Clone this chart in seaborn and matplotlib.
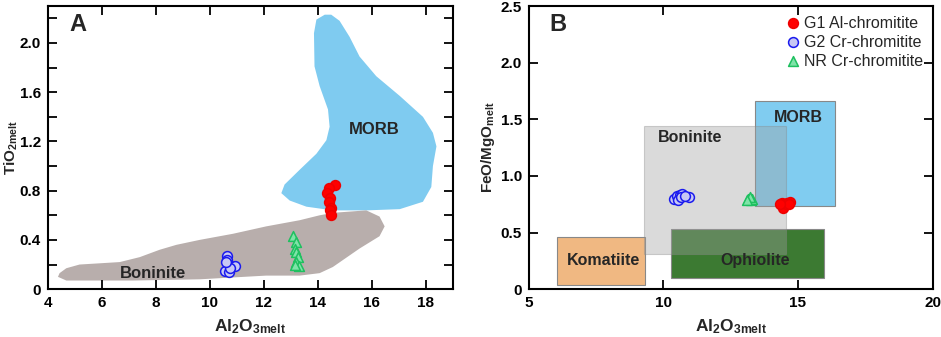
import numpy as np
import pandas as pd
import seaborn as sns
import matplotlib.pyplot as plt
from matplotlib.patches import Polygon, Rectangle
from matplotlib.ticker import MultipleLocator

# ---- data ----
# Panel A: Al2O3 melt vs TiO2 melt
g1_al_a = [14.65, 14.4, 14.35, 14.45, 14.4, 14.5, 14.45, 14.5]
g1_ti_a = [0.85, 0.82, 0.78, 0.74, 0.71, 0.66, 0.64, 0.60]
g2_al_a = [10.62, 10.65, 10.7, 10.95, 10.55, 10.7, 10.75, 10.6]
g2_ti_a = [0.27, 0.24, 0.20, 0.19, 0.15, 0.14, 0.17, 0.22]
nr_al_a = [13.1, 13.2, 13.15, 13.2, 13.25, 13.2, 13.3, 13.15]
nr_ti_a = [0.43, 0.38, 0.33, 0.30, 0.26, 0.22, 0.19, 0.20]

# field outlines in panel A
morb_al = [14.26, 13.95, 13.86, 13.88, 14.07, 14.38, 14.44, 14.32, 13.95, 13.33, 12.77, 12.65,
           12.96, 13.58, 14.56, 15.80, 17.04, 17.90, 18.21, 18.27, 18.40, 18.27, 17.90, 17.04,
           16.17, 15.55, 15.18, 14.81, 14.50]
morb_ti = [2.23, 2.19, 2.08, 1.81, 1.65, 1.46, 1.32, 1.21, 1.10, 0.97, 0.85, 0.78,
           0.72, 0.67, 0.64, 0.64, 0.65, 0.71, 0.83, 1.00, 1.16, 1.27, 1.40, 1.57,
           1.73, 1.89, 2.05, 2.18, 2.23]
bon_al = [4.43, 4.68, 5.17, 5.92, 6.66, 7.40, 8.14, 8.76, 9.62, 10.86, 12.09, 13.33, 14.07,
          14.56, 15.80, 16.29, 16.48, 16.29, 15.55, 14.56, 14.07, 13.33, 12.09, 9.62, 7.15,
          4.68, 4.37]
bon_ti = [0.13, 0.17, 0.20, 0.21, 0.22, 0.26, 0.32, 0.36, 0.40, 0.45, 0.51, 0.56, 0.60,
          0.62, 0.64, 0.59, 0.51, 0.43, 0.33, 0.18, 0.13, 0.11, 0.11, 0.08, 0.07,
          0.07, 0.10]

# Panel B: Al2O3 melt vs FeO/MgO melt
g1_al_b = [14.4, 14.5, 14.6, 14.7, 14.45, 14.55, 14.65, 14.35]
g1_fm_b = [0.76, 0.74, 0.76, 0.77, 0.72, 0.75, 0.75, 0.75]
g2_al_b = [10.4, 10.5, 10.6, 10.7, 10.55, 10.65, 10.95, 10.8]
g2_fm_b = [0.80, 0.82, 0.83, 0.84, 0.79, 0.81, 0.81, 0.82]
nr_al_b = [13.15, 13.2, 13.25, 13.3, 13.2, 13.1]
nr_fm_b = [0.80, 0.80, 0.79, 0.80, 0.81, 0.79]

# rectangular fields in panel B: (name, al_min, al_max, fm_min, fm_max)
field_names = ['Komatiite', 'Ophiolite', 'MORB', 'Boninite']
field_al = [(6.06, 9.33), (10.27, 15.97), (13.42, 16.38), (9.27, 14.56)]
field_fm = [(0.035, 0.46), (0.10, 0.53), (0.73, 1.66), (0.31, 1.44)]

groups = ['G1 Al-chromitite', 'G2 Cr-chromitite', 'NR Cr-chromitite']

df_a = pd.DataFrame({
    'Al': g1_al_a + g2_al_a + nr_al_a,
    'val': g1_ti_a + g2_ti_a + nr_ti_a,
    'grupo': [groups[0]] * len(g1_al_a) + [groups[1]] * len(g2_al_a) + [groups[2]] * len(nr_al_a),
})
df_b = pd.DataFrame({
    'Al': g1_al_b + g2_al_b + nr_al_b,
    'val': g1_fm_b + g2_fm_b + nr_fm_b,
    'grupo': [groups[0]] * len(g1_al_b) + [groups[1]] * len(g2_al_b) + [groups[2]] * len(nr_al_b),
})

sns.set_theme(style='ticks')
plt.rcParams['font.family'] = ['Liberation Sans', 'DejaVu Sans']
plt.rcParams['mathtext.fontset'] = 'custom'
plt.rcParams['mathtext.rm'] = 'Liberation Sans:bold'
plt.rcParams['mathtext.bf'] = 'Liberation Sans:bold'
plt.rcParams['mathtext.default'] = 'bf'

face = {groups[0]: '#ff0000', groups[1]: '#c8c8f4', groups[2]: '#7fe3a8'}
edge = {groups[0]: '#ee0000', groups[1]: '#1a1aee', groups[2]: '#1fc060'}
mark = {groups[0]: 'o', groups[1]: 'o', groups[2]: '^'}

fig = plt.figure(figsize=(9.41, 3.37), dpi=100)
ax1 = fig.add_axes([0.051, 0.142, 0.430, 0.840])
ax2 = fig.add_axes([0.562, 0.142, 0.429, 0.840])


def draw_points(ax, df, size):
    for g in groups:
        sub = df[df['grupo'] == g]
        sns.scatterplot(data=sub, x='Al', y='val', ax=ax, marker=mark[g], s=size,
                        color=face[g], edgecolor=edge[g], linewidth=1.1, label=g, zorder=5)


# ---- panel A ----
ax1.add_patch(Polygon(np.column_stack([morb_al, morb_ti]), closed=True,
                      facecolor='#7fcbf0', edgecolor='none', zorder=1))
ax1.add_patch(Polygon(np.column_stack([bon_al, bon_ti]), closed=True,
                      facecolor='#b8aeac', edgecolor='none', zorder=2))
draw_points(ax1, df_a, 50)
ax1.get_legend().remove()
ax1.text(16.11, 1.30, 'MORB', fontsize=12, fontweight='bold', ha='center', va='center')
ax1.text(7.89, 0.13, 'Boninite', fontsize=12, fontweight='bold', ha='center', va='center')
ax1.text(5.1, 2.15, 'A', fontsize=17, fontweight='bold', ha='center', va='center')
ax1.set_xlim(4, 19)
ax1.set_ylim(0, 2.3)
ax1.set_xticks([4, 6, 8, 10, 12, 14, 16, 18])
ax1.set_yticks([0, 0.4, 0.8, 1.2, 1.6, 2.0])
ax1.set_yticklabels(['0', '0.4', '0.8', '1.2', '1.6', '2.0'])
ax1.yaxis.set_minor_locator(MultipleLocator(0.2))
ax1.set_xlabel(r'Al$_{\mathregular{2}}$O$_{\mathregular{3melt}}$', fontsize=12.5, fontweight='bold', labelpad=5)
ax1.set_ylabel(r'TiO$_{\mathregular{2melt}}$', fontsize=11, fontweight='bold')
ax1.yaxis.set_label_coords(-0.068, 0.5)

# ---- panel B ----
fcols = ['#f0b882', '#3c7a32', '#80ccf0', '#a0a0a0']
falpha = [1, 1, 1, 0.38]
for name, (x0, x1), (y0, y1), c, a in zip(field_names, field_al, field_fm, fcols, falpha):
    ax2.add_patch(Rectangle((x0, y0), x1 - x0, y1 - y0, facecolor=c, alpha=a,
                            edgecolor='#888888', linewidth=0.8, zorder=1))
draw_points(ax2, df_b, 50)
ax2.text(7.76, 0.25, 'Komatiite', fontsize=11.5, fontweight='bold', ha='center', va='center')
ax2.text(13.42, 0.25, 'Ophiolite', fontsize=11.5, fontweight='bold', ha='center', va='center')
ax2.text(11.0, 1.34, 'Boninite', fontsize=11.5, fontweight='bold', ha='center', va='center')
ax2.text(15.0, 1.52, 'MORB', fontsize=11.5, fontweight='bold', ha='center', va='center')
ax2.text(6.09, 2.34, 'B', fontsize=17, fontweight='bold', ha='center', va='center')
ax2.set_xlim(5, 20)
ax2.set_ylim(0, 2.5)
ax2.set_xticks([5, 10, 15, 20])
ax2.set_yticks([0, 0.5, 1.0, 1.5, 2.0, 2.5])
ax2.set_yticklabels(['0', '0.5', '1.0', '1.5', '2.0', '2.5'])
ax2.set_xlabel(r'Al$_{\mathregular{2}}$O$_{\mathregular{3melt}}$', fontsize=12.5, fontweight='bold', labelpad=5)
ax2.set_ylabel(r'FeO/MgO$_{\mathregular{melt}}$', fontsize=11, fontweight='bold')
ax2.yaxis.set_label_coords(-0.08, 0.5)
leg = ax2.legend(loc='upper right', frameon=False, fontsize=11.5, handletextpad=0.1,
                 borderaxespad=0.2, labelspacing=0.25, handlelength=1.2, markerscale=1.0)

for ax in (ax1, ax2):
    for sp in ax.spines.values():
        sp.set_linewidth(1.5)
        sp.set_color('black')
        sp.set_zorder(10)
    ax.xaxis.set_zorder(10)
    ax.yaxis.set_zorder(10)
    ax.tick_params(which='both', direction='in', top=True, right=True, width=1.3,
                   length=6.5, colors='black', labelsize=11, pad=5)
    for lab in ax.get_xticklabels() + ax.get_yticklabels():
        lab.set_fontweight('bold')

fig.savefig('out.png', dpi=100)
